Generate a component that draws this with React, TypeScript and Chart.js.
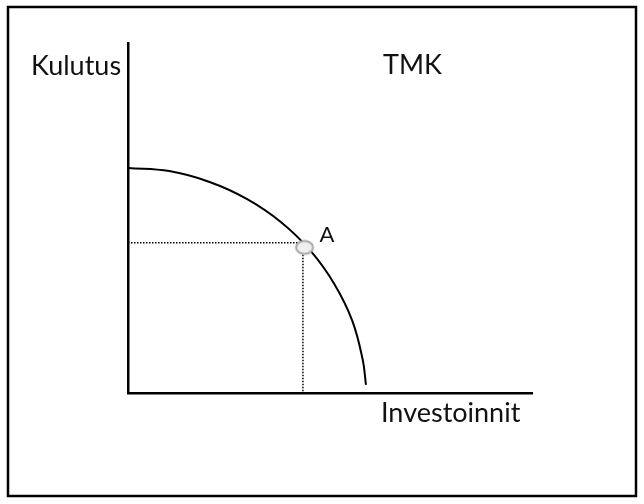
import React, { useEffect, useRef } from "react";
import { Chart, registerables } from "chart.js";

Chart.register(...registerables);

// Production possibility curve (TMK)
const curveX = [0, 1.02, 2.02, 2.95, 3.79, 4.52, 5.11, 5.55, 5.81, 5.89];
const curveY = [6.43, 6.34, 6.03, 5.54, 4.88, 4.06, 3.11, 2.07, 0.95, 0.23];

// Point A and its guide lines
const pointA = { x: 4.37, y: 4.16 };
const guideY = 4.29;
const guideX = 4.33;

const axisMin = 0;
const axisMaxX = 10;
const axisMaxY = 10;

const yLabel = "Kulutus";
const xLabel = "Investoinnit";
const curveLabel = "TMK";
const pointLabel = "A";

const FONT = "Lato, 'Open Sans', sans-serif";

function makeMarker(): HTMLCanvasElement {
  const c = document.createElement("canvas");
  c.width = 22;
  c.height = 18;
  const ctx = c.getContext("2d")!;
  ctx.beginPath();
  ctx.ellipse(11, 9, 8.5, 6.5, 0, 0, Math.PI * 2);
  ctx.fillStyle = "#efefef";
  ctx.fill();
  ctx.lineWidth = 2;
  ctx.strokeStyle = "#a8a8a8";
  ctx.stroke();
  return c;
}

const labelsPlugin = {
  id: "labelsPlugin",
  afterDraw(chart: any) {
    const ctx = chart.ctx;
    const xs = chart.scales.x;
    const ys = chart.scales.y;
    ctx.save();
    // outer frame
    ctx.strokeStyle = "#000";
    ctx.lineWidth = 2.5;
    ctx.strokeRect(8, 7, 628, 489);
    ctx.fillStyle = "#111";
    ctx.textBaseline = "alphabetic";
    ctx.textAlign = "left";
    ctx.font = `27px ${FONT}`;
    ctx.fillText(yLabel, 31, 75);
    ctx.fillText(curveLabel, 383, 74);
    ctx.fillText(xLabel, 381, 422);
    ctx.font = `22px ${FONT}`;
    ctx.fillText(pointLabel, xs.getPixelForValue(pointA.x) + 15, ys.getPixelForValue(pointA.y) - 5);
    ctx.restore();
  },
};

export default function App() {
  const ref = useRef<HTMLCanvasElement | null>(null);
  useEffect(() => {
    if (!ref.current) return;
    const marker = makeMarker();
    const chart = new Chart(ref.current, {
      type: "scatter",
      data: {
        datasets: [
          {
            label: pointLabel,
            data: [pointA],
            pointStyle: marker as any,
            pointRadius: 9,
            showLine: false,
          },
          {
            label: "h",
            data: [
              { x: 0, y: guideY },
              { x: guideX, y: guideY },
            ],
            showLine: true,
            borderColor: "#000",
            borderWidth: 1.5,
            borderDash: [1.5, 1.5],
            pointRadius: 0,
          },
          {
            label: "v",
            data: [
              { x: guideX, y: guideY },
              { x: guideX, y: 0 },
            ],
            showLine: true,
            borderColor: "#000",
            borderWidth: 1.5,
            borderDash: [1.5, 1.5],
            pointRadius: 0,
          },
          {
            label: curveLabel,
            data: curveX.map((x, i) => ({ x, y: curveY[i] })),
            showLine: true,
            borderColor: "#000",
            borderWidth: 2,
            tension: 0.4,
            pointRadius: 0,
          },
        ],
      },
      options: {
        responsive: false,
        animation: false,
        events: [],
        layout: { padding: { left: 128, top: 43, right: 112, bottom: 111 } },
        plugins: { legend: { display: false }, tooltip: { enabled: false } },
        scales: {
          x: {
            type: "linear",
            min: axisMin,
            max: axisMaxX,
            grid: { display: false, drawTicks: false },
            ticks: { display: false },
            border: { display: true, color: "#000", width: 2.5 },
          },
          y: {
            type: "linear",
            min: axisMin,
            max: axisMaxY,
            grid: { display: false, drawTicks: false },
            ticks: { display: false },
            border: { display: true, color: "#000", width: 2.5 },
          },
        },
      },
      plugins: [labelsPlugin],
    });
    return () => chart.destroy();
  }, []);
  return (
    <div style={{ position: "fixed", left: 0, top: 0, width: 644, height: 504, background: "#fff" }}>
      <canvas ref={ref} width={644} height={504} style={{ display: "block" }} />
    </div>
  );
}
